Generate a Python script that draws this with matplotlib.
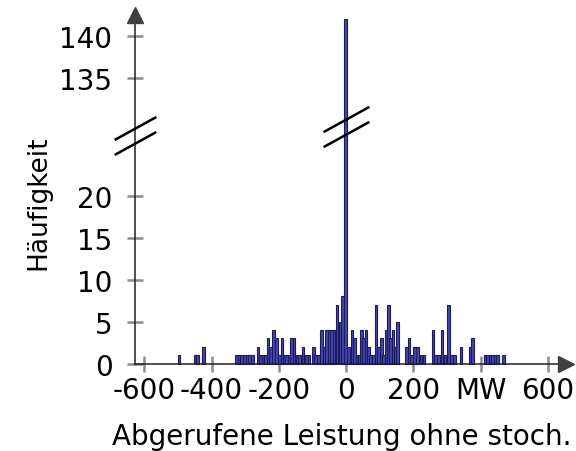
import numpy as np
import matplotlib
matplotlib.use("Agg")
import matplotlib.pyplot as plt
from matplotlib.path import Path

# histogram bars (MW bin centres, counts)
centers = [-497, -448, -441, -423,
           -326.5, -318.5, -310.5, -302.5, -294.5, -286.5, -278.5,
           -262, -254.5, -247, -239.5, -232, -224.5, -216, -207, -198, -191,
           -184, -177, -170, -162.5, -155, -146, -138, -128, -118, -110, -98, -91.5, -82.5,
           -73, -65, -57.5, -50.5, -43.5, -36.5, -27, -18.5, -10, -1,
           7, 17, 25, 32, 39, 45, 52, 59, 66, 73, 81, 89, 97, 104, 111, 118, 125,
           132, 139, 146, 153,
           179, 187, 195, 204, 212, 222, 231,
           258, 266, 274, 285, 294, 305, 313, 321,
           341, 368, 376,
           413, 420.5, 428, 435.5, 443, 450.5, 468]
counts = [1, 1, 1, 2,
          1, 1, 1, 1, 1, 1, 1,
          2, 1, 1, 1, 3, 2, 4, 3, 1, 3,
          1, 1, 1, 3, 3, 1, 1, 2, 1, 1, 2, 1, 1,
          4, 2, 4, 4, 4, 4, 7, 5, 8, 142,
          2, 4, 3, 1, 1, 4, 3, 4, 2, 1, 1, 7, 2, 3, 1, 4, 7,
          3, 4, 2, 5,
          2, 3, 1, 2, 2, 1, 1,
          4, 1, 1, 4, 1, 7, 1, 1,
          2, 2, 3,
          1, 1, 1, 1, 1, 1, 1]

xticks = [-600, -400, -200, 0, 200, 400, 600]
xticklabels = ['-600', '-400', '-200', '0', '200', 'MW', '600']
yticks = [0, 5, 10, 15, 20, 135, 140]
yticklabels = ['0', '5', '10', '15', '20', '135', '140']

# broken y axis: 26.5 .. 127.5 is cut out
BRK_LO, BRK_HI = 26.5, 127.5
GAP = BRK_HI - BRK_LO


def fwd(y):
    y = np.asarray(y, dtype=float)
    return np.where(y > BRK_LO, np.maximum(y - GAP, BRK_LO), y)


def inv(u):
    u = np.asarray(u, dtype=float)
    return np.where(u > BRK_LO, u + GAP, u)


fig = plt.figure(figsize=(5.76, 4.52), dpi=100)
ax = fig.add_axes([118 / 576, 1 - 380 / 452, 458 / 576, 375 / 452])
ax.set_yscale('function', functions=(fwd, inv))

ax.bar(centers, counts, width=8, color='#4747a8', edgecolor='#1a1a5e', linewidth=0.8, zorder=2)

yaxis_x = -627.6
ax.set_xlim(-678, 683)
ax.set_ylim(-1.845, 143.8)

for s in ['top', 'right']:
    ax.spines[s].set_visible(False)
ax.spines['left'].set_position(('data', yaxis_x))
ax.spines['bottom'].set_position(('data', 0))
ax.spines['left'].set_bounds(0, 142.5)
ax.spines['bottom'].set_bounds(yaxis_x, 653)
for s in ['left', 'bottom']:
    ax.spines[s].set_color('#202020')
    ax.spines[s].set_linewidth(1.1)
    ax.spines[s].set_zorder(3)

ax.set_xticks(xticks)
ax.set_xticklabels(xticklabels)
ax.set_yticks(yticks)
ax.set_yticklabels(yticklabels)
ax.minorticks_off()
ax.tick_params(axis='x', direction='inout', length=11, width=1.8, color='#8c8c8c',
               labelsize=20, pad=3.5)
ax.tick_params(axis='y', direction='inout', length=11.5, width=1.8, color='#8c8c8c',
               labelsize=20, pad=10.5)

# arrow heads
ax.plot([yaxis_x], [142.5], marker='^', markersize=11.5, color='#404040', clip_on=False, zorder=4)
ax.plot([653], [0], marker='>', markersize=11.5, color='#404040', clip_on=False, zorder=4)

# break marks
slash = Path([(-1, -0.55), (1, 0.55)], [Path.MOVETO, Path.LINETO])
ax.plot([yaxis_x, yaxis_x], [26.3, 129.0], linestyle='none', marker=slash, markersize=30,
        markerfacecolor='none', markeredgecolor='black', markeredgewidth=1.8, clip_on=False, zorder=5)
ax.plot([-1, -1], [128.3, 130.1], linestyle='none', marker=slash, markersize=33,
        markerfacecolor='none', markeredgecolor='black', markeredgewidth=1.8, clip_on=False, zorder=5)

ax.set_xlabel('Abgerufene Leistung ohne stoch.', fontsize=20)
ax.xaxis.set_label_coords(0.489, -0.115)
ax.set_ylabel('Häufigkeit', fontsize=19)
ax.yaxis.set_label_coords(-0.146, 0.472)

fig.savefig('out.png', dpi=100)
